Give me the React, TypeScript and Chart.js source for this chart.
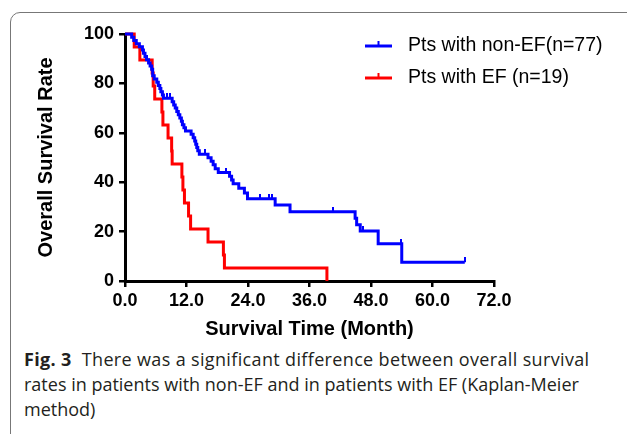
import React, { useEffect, useRef } from "react";
import { Chart, registerables } from "chart.js";

Chart.register(...registerables);

// ---- Data ----
const seriesLabels = ["Pts with non-EF(n=77)", "Pts with EF (n=19)"];

// Pts with non-EF: event times (months) and survival (%) after each step
const nonEfTime = [
  0, 1.3, 1.7, 2.2, 2.8, 3.4, 3.6, 3.9, 4.2, 4.6, 4.9, 5.2, 5.4, 5.7, 6.2, 6.5, 6.8, 7.0, 7.3, 7.5,
  9.2, 9.5, 9.8, 10.1, 10.4, 10.7, 11.0, 11.2, 11.5, 11.8, 12.9, 13.3, 13.6, 13.8, 14.0, 14.2, 14.5,
  16.2, 16.8, 17.2, 17.6, 18.2, 20.4, 20.8, 21.1, 22.2, 23.3, 23.9, 29.3, 32.2, 44.9, 45.2, 45.9,
  49.4, 54.0, 66.3,
];
const nonEfSurv = [
  100, 98.7, 97.4, 96.1, 94.8, 93.5, 92.2, 90.9, 89.6, 88.3, 87.0, 85.7, 83.1, 81.8, 80.5, 79.2, 77.9, 76.6, 75.3, 74.0,
  72.6, 71.3, 70.0, 68.6, 67.3, 66.0, 64.7, 63.3, 62.0, 60.7, 59.4, 58.0, 56.7, 55.4, 54.0, 52.7, 51.3,
  49.9, 48.5, 47.1, 45.4, 43.9, 42.4, 40.9, 39.4, 37.6, 35.6, 33.3, 30.8, 28.0, 25.4, 22.8, 20.2,
  15.1, 7.6, 7.6,
];
const nonEfCensorTime = [8.2, 8.8, 15.6, 19.8, 26.4, 28.0, 28.7, 40.6, 46.5, 53.8, 66.3];

// Pts with EF
const efTime = [0, 1.8, 2.9, 5.3, 5.5, 5.8, 7.2, 7.4, 8.4, 9.1, 9.2, 11.1, 11.3, 11.6, 12.4, 12.8, 16.2, 19.2, 19.4, 39.4];
const efSurv = [100, 94.7, 89.5, 84.2, 78.9, 73.7, 68.4, 63.2, 57.9, 52.6, 47.4, 42.1, 36.8, 31.6, 26.3, 21.1, 15.8, 10.5, 5.3, 0];
const efCensorTime: number[] = [];

const xTicks = [0, 12, 24, 36, 48, 60, 72];
const yTicks = [0, 20, 40, 60, 80, 100];

const seriesColors = ["#0000ff", "#ff0000"];

// ---- helpers ----
function stepPoints(times: number[], surv: number[]) {
  return times.map((t, i) => ({ x: t, y: surv[i] }));
}
function survivalAt(times: number[], surv: number[], t: number) {
  let s = surv[0];
  for (let i = 0; i < times.length; i++) if (times[i] <= t) s = surv[i];
  return s;
}
function censorPoints(ct: number[], times: number[], surv: number[]) {
  return ct.map((t) => ({ x: t, y: survivalAt(times, surv, t) }));
}
function tickImage(color: string) {
  const c = document.createElement("canvas");
  c.width = 2;
  c.height = 10;
  const g = c.getContext("2d")!;
  g.fillStyle = color;
  g.fillRect(0, 0, 2, 5);
  return c;
}

const AXIS_FONT = '"Liberation Sans", Arial, Helvetica, sans-serif';

export default function App() {
  const ref = useRef<HTMLCanvasElement | null>(null);

  useEffect(() => {
    if (!ref.current) return;

    const legendPlugin = {
      id: "kmLegend",
      afterDraw(chart: any) {
        const ctx = chart.ctx;
        const rows = [46, 78];
        ctx.save();
        seriesLabels.forEach((label, i) => {
          const y = rows[i];
          ctx.strokeStyle = seriesColors[i];
          ctx.lineWidth = 3;
          ctx.beginPath();
          ctx.moveTo(365, y);
          ctx.lineTo(392, y);
          ctx.stroke();
          ctx.lineWidth = 2;
          ctx.beginPath();
          ctx.moveTo(378.5, y);
          ctx.lineTo(378.5, y - 5);
          ctx.stroke();
          ctx.fillStyle = "#000";
          ctx.font = `19.5px ${AXIS_FONT}`;
          ctx.textBaseline = "middle";
          ctx.textAlign = "left";
          ctx.fillText(label, 408, y);
        });
        ctx.restore();
      },
    };

    const chart = new Chart(ref.current, {
      type: "line",
      data: {
        datasets: [
          {
            label: seriesLabels[0],
            data: stepPoints(nonEfTime, nonEfSurv),
            borderColor: seriesColors[0],
            backgroundColor: seriesColors[0],
            borderWidth: 3,
            stepped: "before",
            pointRadius: 0,
            fill: false,
            clip: false as any,
            order: 1,
          },
          {
            label: seriesLabels[1],
            data: stepPoints(efTime, efSurv),
            borderColor: seriesColors[1],
            backgroundColor: seriesColors[1],
            borderWidth: 3,
            stepped: "before",
            pointRadius: 0,
            fill: false,
            clip: false as any,
            order: 2,
          },
          {
            label: "censor-nonEF",
            data: censorPoints(nonEfCensorTime, nonEfTime, nonEfSurv),
            showLine: false,
            pointStyle: tickImage(seriesColors[0]) as any,
            pointRadius: 5,
            clip: false as any,
            order: 0,
          },
          {
            label: "censor-EF",
            data: censorPoints(efCensorTime, efTime, efSurv),
            showLine: false,
            pointStyle: tickImage(seriesColors[1]) as any,
            pointRadius: 5,
            clip: false as any,
            order: 0,
          },
        ],
      },
      options: {
        responsive: false,
        maintainAspectRatio: false,
        animation: false,
        events: [],
        layout: { padding: { left: 0, right: 133, top: 34, bottom: 0 } },
        plugins: {
          legend: { display: false },
          tooltip: { enabled: false },
          title: { display: false },
        },
        scales: {
          x: {
            type: "linear",
            min: 0,
            max: 72,
            afterBuildTicks: (s: any) => {
              s.ticks = xTicks.map((v) => ({ value: v }));
            },
            afterFit: (s: any) => {
              s.height = 64;
            },
            ticks: {
              autoSkip: false,
              maxRotation: 0,
              padding: 3,
              color: "#000",
              font: { family: AXIS_FONT, size: 18, weight: "bold" },
              callback: (v: any) => Number(v).toFixed(1),
            },
            grid: {
              display: true,
              drawOnChartArea: false,
              drawTicks: true,
              tickLength: 6,
              tickWidth: 2.5,
              tickColor: "#000",
              color: "#000",
              lineWidth: 2.5,
            },
            border: { display: true, color: "#000", width: 3 },
            title: {
              display: true,
              text: "Survival Time (Month)",
              color: "#000",
              font: { family: AXIS_FONT, size: 20, weight: "bold" },
              padding: { top: 0, bottom: 4 },
            },
          },
          y: {
            type: "linear",
            min: 0,
            max: 100,
            afterBuildTicks: (s: any) => {
              s.ticks = yTicks.map((v) => ({ value: v }));
            },
            afterFit: (s: any) => {
              s.width = 125;
            },
            ticks: {
              padding: 5,
              color: "#000",
              font: { family: AXIS_FONT, size: 18, weight: "bold" },
              callback: (v: any) => String(v),
            },
            grid: {
              display: true,
              drawOnChartArea: false,
              drawTicks: true,
              tickLength: 6,
              tickWidth: 2.5,
              tickColor: "#000",
              color: "#000",
              lineWidth: 2.5,
            },
            border: { display: true, color: "#000", width: 3 },
            title: {
              display: true,
              text: "Overall Survival Rate",
              color: "#000",
              font: { family: AXIS_FONT, size: 20, weight: "bold" },
              padding: { top: 34, bottom: 0 },
            },
          },
        },
      } as any,
      plugins: [legendPlugin],
    });

    return () => chart.destroy();
  }, []);

  return (
    <div
      style={{
        position: "fixed",
        left: 0,
        top: 0,
        width: 627,
        height: 434,
        overflow: "hidden",
        background: "#fff",
      }}
    >
      <div
        style={{
          position: "absolute",
          left: 10,
          top: 12,
          width: 700,
          height: 500,
          border: "1px solid #777",
          borderRadius: 10,
          boxSizing: "border-box",
        }}
      />
      <canvas
        ref={ref}
        width={627}
        height={345}
        style={{ position: "absolute", left: 0, top: 0, width: 627, height: 345 }}
      />
      <div
        style={{
          position: "absolute",
          left: 24,
          top: 347,
          fontFamily: '"Open Sans", "Noto Sans", sans-serif',
          fontSize: 18,
          lineHeight: "25px",
          color: "#231f20",
          whiteSpace: "nowrap",
        }}
      >
        <div style={{ letterSpacing: "0.35px" }}>
          <b>Fig. 3</b>
          <span style={{ marginLeft: 10 }}>There was a significant difference between overall survival</span>
        </div>
        <div>rates in patients with non-EF and in patients with EF (Kaplan-Meier</div>
        <div>method)</div>
      </div>
    </div>
  );
}
